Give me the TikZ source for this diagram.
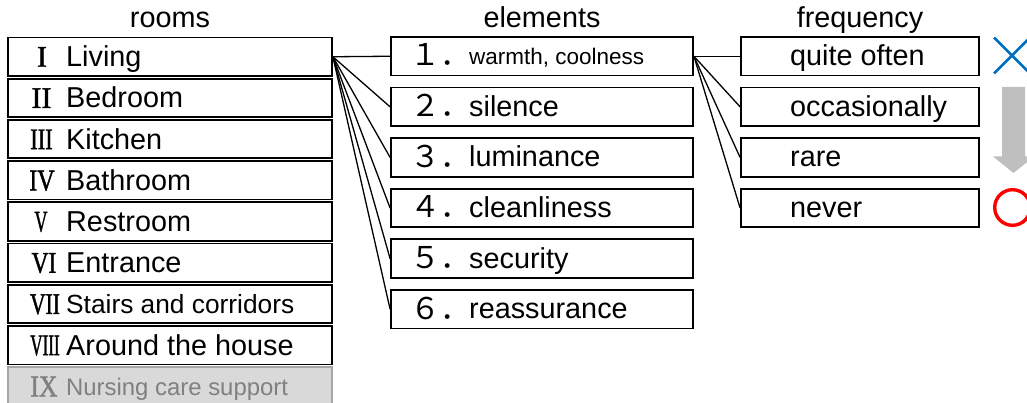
\documentclass[tikz,border=0pt]{standalone}
\usepackage{fontspec}
\setmainfont{Liberation Sans}
\newfontfamily\serifnum{Liberation Serif}[FakeBold=1.6]
\newfontfamily\cjk{Noto Sans CJK JP}
\definecolor{xblue}{HTML}{0070C0}
\definecolor{ored}{HTML}{FF0000}
\definecolor{arrgray}{HTML}{BFBFBF}
\definecolor{nfill}{HTML}{D9D9D9}
\definecolor{nline}{HTML}{A6A6A6}
\definecolor{ntext}{HTML}{808080}
\tikzset{
 box/.style={draw=black, line width=1.8pt, rectangle, inner sep=0pt, minimum height=38.5pt},
 roombox/.style={box, minimum width=324pt},
 elbox/.style={box, minimum width=302pt},
 frbox/.style={box, minimum width=238pt},
 txt/.style={anchor=base west, inner sep=0pt, font=\fontsize{28.8}{32}\selectfont},
 num/.style={anchor=base, inner sep=0pt, font=\serifnum\fontsize{30}{32}\selectfont},
 enum/.style={anchor=base west, inner sep=0pt, font=\cjk\fontsize{30}{32}\selectfont},
 ttl/.style={anchor=base, inner sep=0pt, font=\fontsize{28.8}{32}\selectfont},
 link/.style={line width=1.3pt},
}
\begin{document}
\begin{tikzpicture}[x=1pt,y=-1pt]
\useasboundingbox (0,0) rectangle (1027,403);
\clip (0,0) rectangle (1027,403);
% titles
\node[ttl] (troom) at (170,28) {rooms};
\node[ttl] (tel) at (542,28) {elements};
\node[ttl] (tfr) at (860,28) {frequency};
% rooms
\node[roombox] (r1) at (170,56.75) {};
\node[roombox] (r2) at (170,97.95) {};
\node[roombox] (r3) at (170,139.15) {};
\node[roombox] (r4) at (170,180.35) {};
\node[roombox] (r5) at (170,221.55) {};
\node[roombox] (r6) at (170,262.75) {};
\node[roombox] (r7) at (170,303.95) {};
\node[roombox] (r8) at (170,345.15) {};
\node[roombox, draw=nline, fill=nfill, minimum height=44pt] (r9) at (170,389.1) {};
\node[num] (n1) at (42,66.75) {I};
\node[num] (n2) at (41.5,107.95) {II};
\node[num] (n3) at (41.5,149.15) {\scalebox{0.75}[1]{III}};
\node[num] (n4) at (42,190.35) {\scalebox{0.8}[1]{IV}};
\node[num] (n5) at (41,231.55) {\scalebox{0.6}[1]{V}};
\node[num] (n6) at (44,272.75) {\scalebox{0.78}[1]{VI}};
\node[num] (n7) at (45,313.95) {\scalebox{0.72}[1]{VII}};
\node[num] (n8) at (45,355.15) {\scalebox{0.57}[1]{VIII}};
\node[num, text=ntext] (n9) at (44,396.35) {\scalebox{0.86}[1]{IX}};
\node[txt] (l1) at (66,66.75) {Living};
\node[txt] (l2) at (66,107.95) {Bedroom};
\node[txt] (l3) at (66,149.15) {Kitchen};
\node[txt] (l4) at (66,190.35) {Bathroom};
\node[txt] (l5) at (66,231.55) {Restroom};
\node[txt] (l6) at (66,272.75) {Entrance};
\node[txt, font=\fontsize{26.3}{30}\selectfont] (l7) at (66,313.45) {Stairs and corridors};
\node[txt] (l8) at (66,355.15) {Around the house};
\node[txt, text=ntext, font=\fontsize{23.9}{28}\selectfont] (l9) at (66,395.85) {Nursing care support};
% elements
\node[elbox] (e1) at (542,56.25) {};
\node[elbox] (e2) at (542,106.85) {};
\node[elbox] (e3) at (542,157.45) {};
\node[elbox] (e4) at (542,208.05) {};
\node[elbox] (e5) at (542,258.65) {};
\node[elbox] (e6) at (542,309.25) {};
\node[enum] (m1) at (410.5,66) {１．};
\node[enum] (m2) at (410.5,116.6) {２．};
\node[enum] (m3) at (410.5,167.2) {３．};
\node[enum] (m4) at (410.5,217.8) {４．};
\node[enum] (m5) at (410.5,268.4) {５．};
\node[enum] (m6) at (410.5,319) {６．};
\node[txt, font=\fontsize{22.5}{26}\selectfont] (k1) at (469,64.5) {warmth, coolness};
\node[txt] (k2) at (469,116.35) {silence};
\node[txt] (k3) at (469,166.95) {luminance};
\node[txt] (k4) at (469,217.55) {cleanliness};
\node[txt] (k5) at (469,268.15) {security};
\node[txt] (k6) at (469,318.75) {reassurance};
% frequency
\node[frbox] (f1) at (860,56.25) {};
\node[frbox] (f2) at (860,106.85) {};
\node[frbox] (f3) at (860,157.45) {};
\node[frbox] (f4) at (860,208.05) {};
\node[txt] (q1) at (790,66) {quite often};
\node[txt] (q2) at (790,116.35) {occasionally};
\node[txt] (q3) at (790,166.95) {rare};
\node[txt] (q4) at (790,217.55) {never};
% connectors
\foreach \i in {1,...,6} \draw[link] (r1.east) -- (e\i.west);
\foreach \i in {1,...,4} \draw[link] (e1.east) -- (f\i.west);
% marks
\draw[xblue, line width=2.6pt] (994,37.5) -- (1030,73.5) (994,73.5) -- (1030,37.5);
\fill[arrgray] (1002,87) -- (1025,87) -- (1025,156.5) -- (1034,156.5) -- (1013.5,173) -- (993,156.5) -- (1002,156.5) -- cycle;
\draw[ored, line width=3.4pt] (1012.5,207.5) circle (17.8);
\end{tikzpicture}
\end{document}
